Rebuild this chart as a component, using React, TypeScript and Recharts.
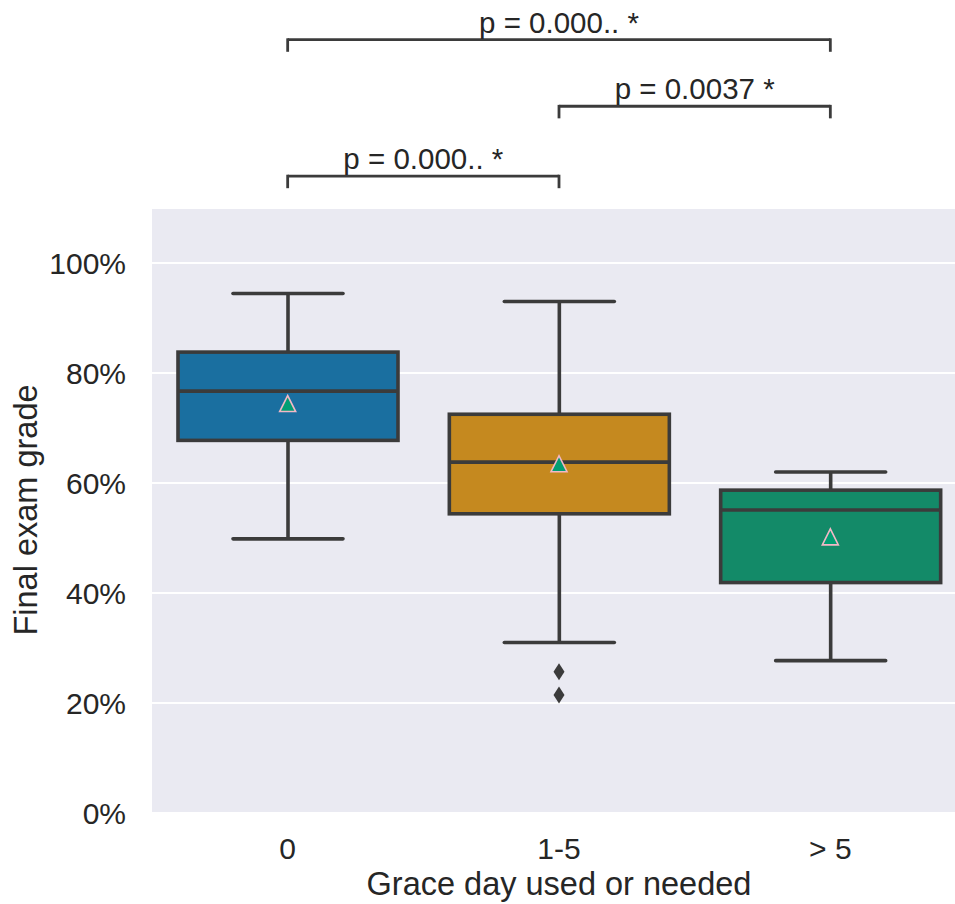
import React from 'react';
import {
  ComposedChart, Bar, Scatter, XAxis, YAxis, CartesianGrid, ReferenceLine,
} from 'recharts';

// box statistics per group (percent)
const groups       = ['0', '1-5', '> 5'];
const whiskerLow   = [49.85, 31.0, 27.7];
const quartile1    = [67.75, 54.4, 41.9];
const medians      = [76.7, 63.8, 55.1];
const quartile3    = [83.8, 72.5, 58.7];
const whiskerHigh  = [94.45, 93.0, 62.0];
const means        = [74.45, 63.5, 50.2];
const outlierA     = [null, 25.7, null];
const outlierB     = [null, 21.45, null];
const boxColors    = ['#1a6fa0', '#c5891f', '#138a68'];
const yTicks       = [0, 20, 40, 60, 80, 100];

// significance brackets: [from, to, level, label]
const brackets: [string, string, number, string][] = [
  ['0', '1-5', 115.8, 'p = 0.000.. *'],
  ['1-5', '> 5', 128.5, 'p = 0.0037 *'],
  ['0', '> 5', 140.6, 'p = 0.000.. *'],
];
const bracketDrop = 2.2;

const data = groups.map((g, i) => ({
  group: g,
  low: whiskerLow[i],
  q1: quartile1[i],
  median: medians[i],
  q3: quartile3[i],
  high: whiskerHigh[i],
  mean: means[i],
  outA: outlierA[i],
  outB: outlierB[i],
  color: boxColors[i],
}));

const edge = '#3b3b3b';
const font = '"Liberation Sans", Arial, sans-serif';
const textColor = '#262626';

function BoxShape(props: any) {
  const { x, y, width, height, payload } = props;
  const top = Math.min(y, y + height);
  const h = Math.abs(height);
  const k = h / (payload.high - payload.low);
  const py = (v: number) => top + (payload.high - v) * k;
  const cx = x + width / 2;
  const cap = width / 4;
  const sw = 3.6;
  return (
    <g>
      <line x1={cx} x2={cx} y1={py(payload.high)} y2={py(payload.q3)} stroke={edge} strokeWidth={sw} />
      <line x1={cx} x2={cx} y1={py(payload.q1)} y2={py(payload.low)} stroke={edge} strokeWidth={sw} />
      <line x1={cx - cap} x2={cx + cap} y1={py(payload.high)} y2={py(payload.high)} stroke={edge} strokeWidth={sw} strokeLinecap="round" />
      <line x1={cx - cap} x2={cx + cap} y1={py(payload.low)} y2={py(payload.low)} stroke={edge} strokeWidth={sw} strokeLinecap="round" />
      <rect x={x} y={py(payload.q3)} width={width} height={py(payload.q1) - py(payload.q3)}
        fill={payload.color} stroke={edge} strokeWidth={sw} />
      <line x1={x} x2={x + width} y1={py(payload.median)} y2={py(payload.median)} stroke={edge} strokeWidth={sw} />
    </g>
  );
}

function MeanShape(props: any) {
  const { cx, cy } = props;
  if (cx == null || cy == null || isNaN(cy)) return <g />;
  return (
    <polygon
      points={`${cx},${cy - 8} ${cx - 8},${cy + 8} ${cx + 8},${cy + 8}`}
      fill="#029e73" stroke="#f2b8c6" strokeWidth={1.6}
    />
  );
}

const outlierShape = (key: 'outA' | 'outB') => (props: any) => {
  const { cx, cy, payload } = props;
  if (payload == null || payload[key] == null || isNaN(cy)) return <g />;
  return (
    <polygon
      points={`${cx},${cy - 8.5} ${cx - 5.5},${cy} ${cx},${cy + 8.5} ${cx + 5.5},${cy}`}
      fill={edge}
    />
  );
};

function YLabel() {
  return (
    <text x={37} y={510} transform="rotate(-90, 37, 510)" textAnchor="middle"
      fontFamily={font} fontSize={32.5} fill={textColor}>
      Final exam grade
    </text>
  );
}

function XLabel() {
  return (
    <text x={559} y={895} textAnchor="middle" fontFamily={font} fontSize={32.5} fill={textColor}>
      Grace day used or needed
    </text>
  );
}

export default function App() {
  return (
    <div style={{ position: 'fixed', left: 0, top: 0, width: 955, height: 904, overflow: 'hidden', background: '#fff' }}>
      <ComposedChart
        width={980}
        height={904}
        data={data}
        margin={{ top: 208, right: 14, left: 0, bottom: 0 }}
      >
        <CartesianGrid fill="#eaeaf2" stroke="#ffffff" strokeWidth={2} vertical={false} />
        <XAxis
          dataKey="group"
          axisLine={false}
          tickLine={false}
          tickSize={0}
          tickMargin={25}
          height={91}
          tick={{ fontSize: 30, fill: textColor, fontFamily: font }}
        />
        <YAxis
          domain={[0, 110]}
          ticks={yTicks}
          tickFormatter={(v: number) => `${v}%`}
          axisLine={false}
          tickLine={false}
          tickSize={0}
          tickMargin={26}
          width={152}
          tick={{ fontSize: 30, fill: textColor, fontFamily: font }}
        />
        <Bar
          dataKey={(d: any) => [d.low, d.high]}
          barSize={220}
          shape={<BoxShape />}
          isAnimationActive={false}
        />
        <Scatter dataKey="outA" shape={outlierShape('outA')} isAnimationActive={false} />
        <Scatter dataKey="outB" shape={outlierShape('outB')} isAnimationActive={false} />
        <Scatter dataKey="mean" shape={<MeanShape />} isAnimationActive={false} />
        {brackets.map(([a, b, lvl, text], i) => (
          <ReferenceLine
            key={`h${i}`}
            segment={[{ x: a, y: lvl }, { x: b, y: lvl }]}
            ifOverflow="visible"
            stroke={edge}
            strokeWidth={2.8}
            label={{ value: text, position: 'top', offset: 7, fontSize: 29.5, fill: textColor, fontFamily: font }}
          />
        ))}
        {brackets.flatMap(([a, b, lvl], i) => [a, b].map((c, j) => (
          <ReferenceLine
            key={`v${i}${j}`}
            segment={[{ x: c, y: lvl + 0.25 }, { x: c, y: lvl - bracketDrop }]}
            ifOverflow="visible"
            stroke={edge}
            strokeWidth={2.8}
          />
        )))}
        <YLabel />
        <XLabel />
      </ComposedChart>
    </div>
  );
}
